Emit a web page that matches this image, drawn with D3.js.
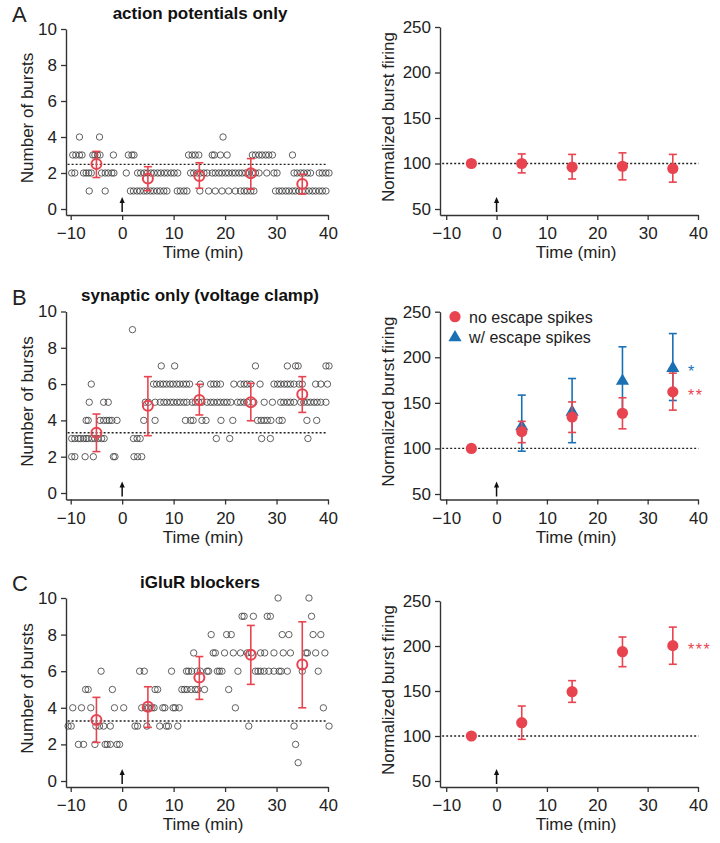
<!DOCTYPE html>
<html><head><meta charset="utf-8">
<script src="https://cdn.jsdelivr.net/npm/d3@7"></script>
<style>
body{margin:0;background:#fff}
svg{display:block;font-family:"Liberation Sans",Arial,sans-serif}
</style>
</head><body>
<svg id="chart" width="720" height="843"></svg>
<script>
// ---------------- DATA ----------------
const timeTicks = [-10, 0, 10, 20, 30, 40];
const burstTicks = [0, 2, 4, 6, 8, 10];
const normTicks = [50, 100, 150, 200, 250];
const binTimes = [-5, 5, 15, 25, 35];
const titles = ["action potentials only", "synaptic only (voltage clamp)", "iGluR blockers"];
const panelLetters = ["A", "B", "C"];
const legendLabels = ["no escape spikes", "w/ escape spikes"];
const starLabels = [null, ["*", "**"], "***"];

// individual bursts: [number of bursts, [times]]
const burstsA = [
  [4, [-8.3, -4.4, 19.6]],
  [3, [-9.6, -9.0, -8.3, -7.8, -5.7, -5.3, -4.8, -4.3, -1.7, 1.2, 1.9, 2.3, 12.9, 13.6, 14.2, 14.9, 17.5, 17.9, 19.1, 20.4, 25.3, 25.9, 26.6, 27.2, 27.9, 28.5, 29.2, 33.1]],
  [2, [-9.8, -9.2, -7.5, -7.0, -6.5, -6.0, -4.0, -3.3, -2.7, -2.0, -1.6, 0.8, 3.0, 3.6, 4.3, 4.9, 5.6, 6.2, 6.9, 7.5, 8.2, 8.8, 9.5, 10.1, 10.8, 13.3, 13.9, 14.6, 15.2, 15.9, 16.5, 17.5, 18.1, 18.8, 19.4, 20.1, 20.7, 21.4, 22.0, 22.7, 23.3, 24.0, 24.6, 25.3, 25.9, 26.6, 28.1, 29.5, 30.1, 33.4, 34.0, 34.7, 35.3, 36.0, 36.6, 38.3, 38.9, 39.6, 40.2]],
  [1, [-6.4, -3.3, 1.6, 2.2, 2.9, 3.5, 4.2, 4.8, 5.5, 6.1, 6.8, 7.4, 8.1, 8.7, 10.7, 11.3, 12.0, 12.6, 15.1, 16.8, 18.1, 19.4, 20.7, 22.0, 23.0, 23.7, 24.3, 25.0, 25.6, 29.8, 30.5, 31.1, 31.8, 32.4, 33.1, 33.7, 34.4, 35.0, 35.6, 36.3, 37.0, 37.6, 38.3, 38.9, 39.6]]
];
const burstsB = [
  [9, [2.0]],
  [7, [7.6, 10.2, 25.9, 32.1, 33.7, 34.2, 39.6, 40.2]],
  [6, [-6.0, 6.1, 6.7, 7.4, 8.0, 8.6, 9.3, 9.9, 10.6, 11.2, 11.9, 12.5, 13.1, 15.2, 17.2, 17.8, 18.4, 19.1, 21.7, 23.0, 23.7, 24.3, 25.0, 26.8, 29.5, 30.2, 30.8, 31.5, 32.1, 32.7, 33.4, 34.4, 35.0, 37.6, 38.6, 39.9]],
  [5, [-6.4, -3.6, -2.7, 4.5, 5.1, 6.4, 7.4, 8.1, 8.7, 9.4, 10.0, 10.7, 11.3, 12.0, 12.6, 13.6, 14.2, 14.9, 15.5, 16.5, 17.2, 17.8, 18.5, 19.1, 19.8, 20.4, 21.1, 22.4, 23.0, 23.7, 24.3, 25.6, 27.6, 29.2, 30.8, 31.4, 32.1, 32.7, 33.4, 34.7, 35.3, 36.0, 36.6, 37.3, 37.9, 38.6, 39.6]],
  [4, [-7.0, -6.6, -4.3, -3.6, -3.0, -2.5, -2.0, -1.0, 4.2, 6.4, 12.3, 13.3, 13.8, 15.5, 16.3, 19.2, 21.5, 26.3, 27.0, 27.6, 28.2, 28.9, 30.5, 31.1, 35.9, 37.8]],
  [3, [-9.8, -9.2, -8.5, -8.1, -7.5, -7.0, -6.6, -5.9, -5.3, -4.7, -4.0, -3.5, 2.2, 2.9, 3.5, 18.3, 20.9, 27.1, 28.8, 36.1]],
  [2, [-9.8, -9.2, -7.2, -5.6, -1.7, -1.4, 2.3, 3.0, 3.8]]
];
const burstsC = [
  [10, [30.3, 36.3]],
  [9, [23.3, 23.7, 25.5, 28.2, 28.8, 36.8]],
  [8, [17.3, 20.3, 21.2, 31.1, 32.4, 37.1, 38.6]],
  [7, [13.9, 17.7, 18.1, 19.9, 21.6, 23.0, 24.3, 25.1, 26.9, 27.7, 29.5, 31.3, 32.7, 35.7, 36.0, 37.6, 39.4]],
  [6, [-4.1, 3.4, 4.3, 9.6, 12.5, 12.9, 13.5, 14.6, 15.2, 16.5, 16.8, 18.5, 18.9, 19.4, 22.5, 25.9, 26.4, 26.9, 27.6, 28.5, 29.5, 30.5, 30.9, 32.1, 35.0, 38.1]],
  [5, [-7.1, -6.6, -1.9, 6.4, 6.9, 11.6, 12.1, 12.6, 13.4, 14.2, 14.7, 16.0, 20.7]],
  [4, [-9.6, -7.9, -6.1, -1.5, 0.3, 3.8, 4.5, 5.1, 5.8, 6.2, 7.9, 8.3, 9.9, 10.3, 11.1, 22.0, 39.1]],
  [3, [-10.5, -9.9, -5.1, -4.4, -3.6, -2.3, 2.5, 3.0, 4.8, 7.3, 8.6, 9.0, 10.8, 24.6, 33.4, 40.2]],
  [2, [-8.5, -7.5, -5.3, -3.3, -2.9, -2.3, -1.0, -0.5, 33.7]],
  [1, [34.2]]
];

// bin means (left panels)
const meanBurstsA = [2.5, 1.7, 1.83, 1.98, 1.39];
const hiBurstsA = [3.2, 2.35, 2.57, 2.8, 1.93];
const loBurstsA = [1.75, 1.02, 1.15, 1.1, 0.83];
const baselineA = 2.48;
const meanBurstsB = [3.32, 4.81, 5.12, 5.0, 5.44];
const hiBurstsB = [4.35, 6.41, 5.99, 6.04, 6.41];
const loBurstsB = [2.28, 3.16, 4.3, 3.98, 4.44];
const baselineB = 3.32;
const meanBurstsC = [3.33, 4.06, 5.65, 6.9, 6.36];
const hiBurstsC = [4.57, 5.15, 6.8, 8.5, 8.7];
const loBurstsC = [2.11, 2.93, 4.46, 5.28, 4.0];
const baselineC = 3.28;

// normalized burst firing (right panels)
const normA = [100, 100, 96, 97, 94.5];
const normHiA = [100, 110.5, 110, 111.7, 110];
const normLoA = [100, 89.7, 83, 82, 79.5];
const normB = [100, 118.5, 134.5, 138.5, 162];
const normHiB = [100, 129.7, 151, 155.6, 182.6];
const normLoB = [100, 106.3, 117.5, 121.5, 142];
const escapeTimes = [5, 15, 25, 35];
const escapeB = [124, 140, 174, 188];
const escapeHiB = [158.5, 176.7, 211.5, 226];
const escapeLoB = [97, 106.3, 137, 152.6];
const normC = [100, 114.8, 149.2, 193.7, 200.4];
const normHiC = [100, 133.3, 161.5, 210, 221];
const normLoC = [100, 96.3, 137.4, 177, 179.7];

// ---------------- DRAWING ----------------
const RED = "#e8444f", BLUE = "#1a70b5", AX = "#333";
const svg = d3.select("#chart");

const rows = [
  {lt: 29, l0: 209, ay: 215, rt: 27, r50: 209},
  {lt: 311.5, l0: 493, ay: 499.5, rt: 311.7, r50: 494},
  {lt: 598, l0: 781, ay: 787, rt: 601, r50: 781}
];
const scatterSets = [burstsA, burstsB, burstsC];
const leftMeans = [[meanBurstsA, hiBurstsA, loBurstsA, baselineA], [meanBurstsB, hiBurstsB, loBurstsB, baselineB], [meanBurstsC, hiBurstsC, loBurstsC, baselineC]];
const rightMeans = [[normA, normHiA, normLoA], [normB, normHiB, normLoB], [normC, normHiC, normLoC]];

function makeX(xm10, x40, axStart) {
  const s0 = d3.scaleLinear().domain([-10, 40]).range([xm10, x40]);
  return d3.scaleLinear().domain([s0.invert(axStart), 40]).range([axStart, x40]);
}
function makeY(v0, p0, v1, p1, axY) {
  const s0 = d3.scaleLinear().domain([v0, v1]).range([p0, p1]);
  return d3.scaleLinear().domain([s0.invert(axY), v1]).range([axY, p1]);
}
function styleAxis(g) {
  g.selectAll("path.domain").attr("stroke", AX).attr("stroke-width", 1.4);
  g.selectAll(".tick line").attr("stroke", AX).attr("stroke-width", 1.3);
  g.selectAll(".tick text").attr("fill", "#222").style("font-size", "17px").style("font-family", '"Liberation Sans",Arial,sans-serif');
}
function drawAxes(g, x, y, yTicks, axY, xAx) {
  const gx = g.append("g").attr("transform", `translate(0,${axY})`)
    .call(d3.axisBottom(x).tickValues(timeTicks).tickSize(5).tickSizeOuter(0).tickPadding(7));
  styleAxis(gx);
  const gy = g.append("g").attr("transform", `translate(${xAx},0)`)
    .call(d3.axisLeft(y).tickValues(yTicks).tickSize(5).tickSizeOuter(0).tickPadding(4));
  styleAxis(gy);
}
function arrow(g, x, axY) {
  g.append("line").attr("x1", x(0)).attr("x2", x(0)).attr("y1", axY - 3).attr("y2", axY - 13)
    .attr("stroke", "#111").attr("stroke-width", 1.5);
  g.append("path").attr("d", `M${x(0)},${axY - 18}L${x(0) - 2.6},${axY - 12}L${x(0) + 2.6},${axY - 12}Z`).attr("fill", "#111");
}
function dashed(g, x, y, v, t0, t1) {
  g.append("line").attr("x1", x(t0)).attr("x2", x(t1)).attr("y1", y(v)).attr("y2", y(v))
    .attr("stroke", "#222").attr("stroke-width", 1.3).attr("stroke-dasharray", "2,2");
}
function errBars(g, x, y, times, hi, lo, color, cap) {
  times.forEach((t, i) => {
    if (hi[i] === lo[i]) return;
    g.append("line").attr("x1", x(t)).attr("x2", x(t)).attr("y1", y(hi[i])).attr("y2", y(lo[i])).attr("stroke", color).attr("stroke-width", 1.6);
    [hi[i], lo[i]].forEach(v => g.append("line").attr("x1", x(t) - cap).attr("x2", x(t) + cap).attr("y1", y(v)).attr("y2", y(v)).attr("stroke", color).attr("stroke-width", 1.6));
  });
}

rows.forEach((r, ri) => {
  // ---- left panel ----
  const gl = svg.append("g");
  const xl = makeX(70.7, 328, 66);
  const yl = makeY(0, r.l0, 10, r.lt, r.ay);
  drawAxes(gl, xl, yl, burstTicks, r.ay, 66);
  dashed(gl, xl, yl, leftMeans[ri][3], -10.6, 39.7);
  scatterSets[ri].forEach(([v, ts]) => {
    gl.append("g").selectAll("circle").data(ts).join("circle")
      .attr("cx", d => xl(d)).attr("cy", yl(v)).attr("r", 3.2)
      .attr("fill", "none").attr("stroke", "#3a3a3a").attr("stroke-width", 0.8);
  });
  const [mn, hi, lo] = leftMeans[ri];
  errBars(gl, xl, yl, binTimes, hi, lo, RED, 4);
  gl.append("g").selectAll("circle").data(binTimes).join("circle")
    .attr("cx", d => xl(d)).attr("cy", (d, i) => yl(mn[i])).attr("r", 5)
    .attr("fill", "none").attr("stroke", RED).attr("stroke-width", 2);
  arrow(gl, xl, r.ay);
  gl.append("text").attr("x", 203).attr("y", r.ay + 43).attr("text-anchor", "middle").style("font-size", "17px").attr("fill", "#222").text("Time (min)");
  gl.append("text").attr("transform", `translate(27,${(r.lt + r.ay) / 2 - 4}) rotate(-90)`).attr("text-anchor", "middle")
    .attr("dominant-baseline", "central").style("font-size", "17px").attr("fill", "#222").text("Number of bursts");
  gl.append("text").attr("x", 200).attr("y", r.lt - 10.5).attr("text-anchor", "middle").style("font-size", "17px").style("font-weight", "bold").attr("fill", "#111").text(titles[ri]);
  gl.append("text").attr("x", 12).attr("y", r.lt - 7).style("font-size", "22px").attr("fill", "#222").text(panelLetters[ri]);

  // ---- right panel ----
  const gr = svg.append("g");
  const xr = makeX(446.2, 698, 440);
  const yr = makeY(50, r.r50, 250, r.rt, r.ay);
  drawAxes(gr, xr, yr, normTicks, r.ay, 440);
  dashed(gr, xr, yr, 100, -10.8, 40.1);
  if (ri === 1) {
    errBars(gr, xr, yr, escapeTimes, escapeHiB, escapeLoB, BLUE, 4);
    gr.append("g").selectAll("path").data(escapeTimes).join("path")
      .attr("transform", (d, i) => `translate(${xr(d)},${yr(escapeB[i])})`)
      .attr("d", d3.symbol(d3.symbolTriangle, 75)).attr("fill", BLUE);
  }
  const [nm, nh, nl] = rightMeans[ri];
  errBars(gr, xr, yr, binTimes, nh, nl, RED, 4);
  gr.append("g").selectAll("circle").data(binTimes).join("circle")
    .attr("cx", d => xr(d)).attr("cy", (d, i) => yr(nm[i])).attr("r", 5.6).attr("fill", RED);
  arrow(gr, xr, r.ay);
  gr.append("text").attr("x", 576).attr("y", r.ay + 43).attr("text-anchor", "middle").style("font-size", "17px").attr("fill", "#222").text("Time (min)");
  gr.append("text").attr("transform", `translate(388,${(r.rt + r.ay) / 2 - 4}) rotate(-90)`).attr("text-anchor", "middle")
    .attr("dominant-baseline", "central").style("font-size", "17px").attr("fill", "#222").text("Normalized burst firing");

  if (ri === 1) {
    gr.append("circle").attr("cx", 455).attr("cy", 316.7).attr("r", 5.6).attr("fill", RED);
    gr.append("text").attr("x", 469).attr("y", 322.5).style("font-size", "16px").attr("fill", "#222").text(legendLabels[0]);
    gr.append("path").attr("transform", "translate(455,337.5)").attr("d", d3.symbol(d3.symbolTriangle, 75)).attr("fill", BLUE);
    gr.append("text").attr("x", 469).attr("y", 343).style("font-size", "16px").attr("fill", "#222").text(legendLabels[1]);
    gr.append("text").attr("x", 688).attr("y", yr(escapeB[3]) + 9).style("font-size", "16px").attr("fill", BLUE).text(starLabels[1][0]);
    gr.append("text").attr("x", 688).attr("y", yr(normB[4]) + 9).style("font-size", "16px").style("letter-spacing", "1.5px").attr("fill", RED).text(starLabels[1][1]);
  }
  if (ri === 2) {
    gr.append("text").attr("x", 688).attr("y", yr(normC[4]) + 9).style("font-size", "16px").style("letter-spacing", "1.5px").attr("fill", RED).text(starLabels[2]);
  }
});
</script>
</body></html>
